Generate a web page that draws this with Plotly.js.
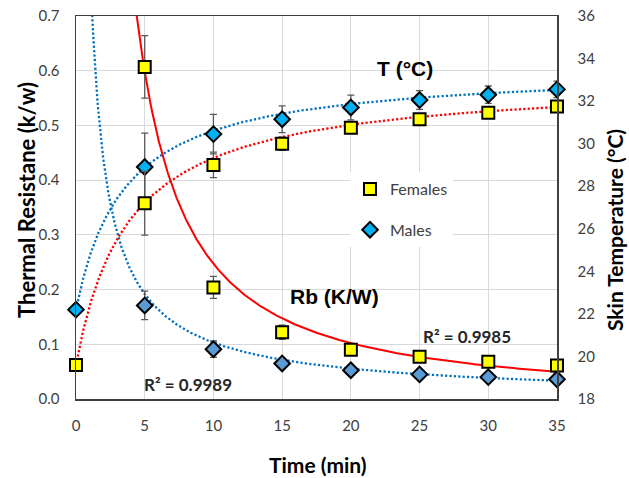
<!DOCTYPE html>
<html>
<head>
<meta charset="utf-8">
<script src="https://cdn.plot.ly/plotly-3.0.1.min.js"></script>
<style>
  html, body { margin: 0; padding: 0; background: #ffffff; }
  #chart { width: 629px; height: 478px; }
</style>
</head>
<body>
<div id="chart"></div>
<script>
// ---- Data ----
const time = [0, 5, 10, 15, 20, 25, 30, 35];
const tempFemales = [19.6, 27.2, 29.0, 30.0, 30.75, 31.15, 31.45, 31.75];
const tempMales = [22.2, 28.9, 30.45, 31.15, 31.7, 32.05, 32.3, 32.55];
const tempFemalesErr = [0, 1.5, 0.6, 0.31, 0.27, 0.25, 0.25, 0.25];
const tempMalesErr = [0, 1.6, 0.93, 0.63, 0.58, 0.44, 0.41, 0.39];

const rbTime = [5, 10, 15, 20, 25, 30, 35];
const rbFemales = [0.607, 0.204, 0.122, 0.090, 0.077, 0.068, 0.061];
const rbMales = [0.171, 0.091, 0.065, 0.0525, 0.045, 0.040, 0.036];
const rbFemalesErr = [0.057, 0.020, 0.013, 0.006, 0.004, 0.004, 0.004];
const rbMalesErr = [0.026, 0.015, 0.006, 0.004, 0.003, 0.003, 0.003];

// Trendline coefficients (as drawn in the reference)
const fitRbFemales = [4.657, -1.2753];      // power: a * t^b
const fitRbMales = [0.813, -0.897];         // power: a * t^b
const fitTempFemales = [19.59, 13.45, 3.81]; // T0 + A*t/(t+K)
const fitTempMales = [22.19, 11.37, 3.5];

const xTicks = [0, 5, 10, 15, 20, 25, 30, 35];
const rbTicks = [0.0, 0.1, 0.2, 0.3, 0.4, 0.5, 0.6, 0.7];
const tempTicks = [18, 20, 22, 24, 26, 28, 30, 32, 34, 36];

const legendNames = ['Females', 'Males'];
const texts = {
  xTitle: 'Time (min)',
  yTitle: 'Thermal Resistane (k/w)',
  y2Title: 'Skin Temperature (°C)',
  tLabel: 'T (°C)',
  rbLabel: 'Rb (K/W)',
  r2Males: 'R² = 0.9989',
  r2Females: 'R² = 0.9985'
};

// ---- Trendline evaluation ----
function sample(from, to, step) {
  const out = [];
  for (let t = from; t <= to + 1e-9; t += step) out.push(+t.toFixed(4));
  return out;
}
const tPow = sample(0.5, 35, 0.05);
const tSat = sample(0, 35, 0.05);
const power = (c) => (t) => c[0] * Math.pow(t, c[1]);
const sat = (c) => (t) => c[0] + c[1] * t / (t + c[2]);

const FONT = 'Lato, "Liberation Sans", sans-serif';
const DOT_BLUE = '#0070C0';
const RED = '#FF0000';

const errStyle = { type: 'data', color: '#595959', thickness: 1.3, width: 3.5 };

const traces = [
  // trendlines
  { x: tSat, y: tSat.map(sat(fitTempMales)), yaxis: 'y2', mode: 'lines',
    line: { color: DOT_BLUE, width: 2.3, dash: '2.2px,2.2px' }, showlegend: false, hoverinfo: 'skip' },
  { x: tSat, y: tSat.map(sat(fitTempFemales)), yaxis: 'y2', mode: 'lines',
    line: { color: RED, width: 2.3, dash: '2.2px,2.2px' }, showlegend: false, hoverinfo: 'skip' },
  { x: tPow, y: tPow.map(power(fitRbMales)), mode: 'lines',
    line: { color: DOT_BLUE, width: 2.3, dash: '2.2px,2.2px' }, showlegend: false, hoverinfo: 'skip' },
  { x: tPow, y: tPow.map(power(fitRbFemales)), mode: 'lines',
    line: { color: RED, width: 2 }, showlegend: false, hoverinfo: 'skip' },
  // Rb points
  { x: rbTime, y: rbMales, mode: 'markers', cliponaxis: false, showlegend: false,
    error_y: Object.assign({ array: rbMalesErr }, errStyle),
    marker: { symbol: 'diamond', size: 12, color: '#5B9BD5', line: { color: '#000000', width: 2 } } },
  { x: rbTime, y: rbFemales, mode: 'markers', cliponaxis: false, showlegend: false,
    error_y: Object.assign({ array: rbFemalesErr }, errStyle),
    marker: { symbol: 'square', size: 12, color: '#FFFF00', line: { color: '#000000', width: 2 } } },
  // Temperature points
  { x: time, y: tempMales, yaxis: 'y2', mode: 'markers', cliponaxis: false,
    name: legendNames[1], legendgroup: 'm', legendrank: 2,
    error_y: Object.assign({ array: tempMalesErr }, errStyle),
    marker: { symbol: 'diamond', size: 12, color: '#00B0F0', line: { color: '#000000', width: 2 } } },
  { x: time, y: tempFemales, yaxis: 'y2', mode: 'markers', cliponaxis: false,
    name: legendNames[0], legendgroup: 'f', legendrank: 1,
    error_y: Object.assign({ array: tempFemalesErr }, errStyle),
    marker: { symbol: 'square', size: 12, color: '#FFFF00', line: { color: '#000000', width: 2 } } }
];

const L = 76, R = 557, T = 16, B = 399;
const px = (x) => (x - L) / (R - L);
const py = (y) => (B - y) / (B - T);

const layout = {
  width: 629, height: 478,
  margin: { l: L, r: 629 - R, t: T, b: 478 - B, pad: 0 },
  paper_bgcolor: '#ffffff', plot_bgcolor: '#ffffff',
  font: { family: FONT, size: 15, color: '#404040' },
  showlegend: true,
  legend: {
    x: px(350), y: py(172), xanchor: 'left', yanchor: 'top',
    bgcolor: '#ffffff', borderwidth: 0, tracegroupgap: 17,
    font: { family: FONT, size: 16, color: '#404040' }
  },
  xaxis: {
    range: [0, 35], tickvals: xTicks, ticktext: xTicks.map(String),
    showgrid: true, gridcolor: '#d9d9d9', gridwidth: 1,
    showline: true, linecolor: '#404040', linewidth: 1.5, mirror: true,
    zeroline: false, ticks: '', ticklabelstandoff: 12,
    tickfont: { family: FONT, size: 15, color: '#404040' }
  },
  yaxis: {
    range: [0, 0.7], tickvals: rbTicks, ticktext: rbTicks.map(v => v.toFixed(1)),
    showgrid: true, gridcolor: '#d9d9d9', gridwidth: 1,
    showline: true, linecolor: '#404040', linewidth: 1.5,
    zeroline: false, ticks: '', ticklabelstandoff: 12,
    tickfont: { family: FONT, size: 15, color: '#404040' }
  },
  yaxis2: {
    overlaying: 'y', side: 'right', range: [18, 36],
    tickvals: tempTicks, ticktext: tempTicks.map(String),
    showgrid: false, showline: true, linecolor: '#404040', linewidth: 1.5,
    zeroline: false, ticks: '', ticklabelstandoff: 16,
    tickfont: { family: FONT, size: 15, color: '#404040' }
  },
  annotations: [
    { text: '<b>' + texts.xTitle + '</b>', xref: 'paper', yref: 'paper', x: px(318), y: py(464),
      showarrow: false, xanchor: 'center', yanchor: 'middle', font: { family: FONT, size: 21, color: '#000000' } },
    { text: '<b>' + texts.yTitle + '</b>', xref: 'paper', yref: 'paper', x: px(27), y: py(200), textangle: -90,
      showarrow: false, xanchor: 'center', yanchor: 'middle', font: { family: FONT, size: 22, color: '#000000' } },
    { text: '<b>' + texts.y2Title + '</b>', xref: 'paper', yref: 'paper', x: px(614), y: py(230), textangle: -90,
      showarrow: false, xanchor: 'center', yanchor: 'middle', font: { family: FONT, size: 21, color: '#000000' } },
    { text: '<b>' + texts.tLabel + '</b>', xref: 'paper', yref: 'paper', x: px(405), y: py(68),
      showarrow: false, xanchor: 'center', yanchor: 'middle', font: { family: '"Liberation Sans", Arial, sans-serif', size: 21, color: '#000000' } },
    { text: '<b>' + texts.rbLabel + '</b>', xref: 'paper', yref: 'paper', x: px(334), y: py(296),
      showarrow: false, xanchor: 'center', yanchor: 'middle', font: { family: '"Liberation Sans", Arial, sans-serif', size: 21, color: '#000000' } },
    { text: '<b>' + texts.r2Males + '</b>', xref: 'paper', yref: 'paper', x: px(188), y: py(384),
      showarrow: false, xanchor: 'center', yanchor: 'middle', font: { family: FONT, size: 17, color: '#262626' } },
    { text: '<b>' + texts.r2Females + '</b>', xref: 'paper', yref: 'paper', x: px(467), y: py(336),
      showarrow: false, xanchor: 'center', yanchor: 'middle', font: { family: FONT, size: 17, color: '#262626' } }
  ]
};

Plotly.newPlot('chart', traces, layout, { staticPlot: true, displayModeBar: false });
</script>
</body>
</html>
